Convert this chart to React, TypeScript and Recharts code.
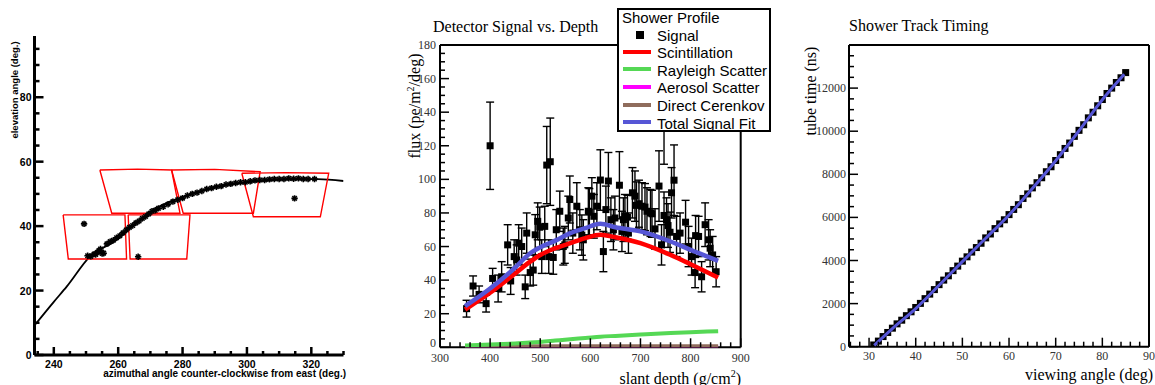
import { ComposedChart, ErrorBar, Line, Scatter, XAxis, YAxis } from 'recharts'

const SERIF = '"Liberation Serif", "Times New Roman", serif'
const SANS = '"Liberation Sans", Arial, sans-serif'

// ---- panel 1: track on the sky ----
const SKY_CURVE_AZ = [234.1, 240, 244, 251.2, 259.5, 265, 270.9, 280.2, 291.7, 302, 314.5, 322, 330]
const SKY_CURVE_EL = [9.3, 16.5, 21.2, 30.5, 35.7, 40.4, 45.0, 49.1, 52.3, 53.8, 54.6, 54.6, 54.0]

const SKY_HIT_AZ = [
  249.4, 250.5, 251.5, 252.5, 253, 253.5, 254, 254.5, 255, 255.5, 256.5, 257.5, 258.5, 259.5, 260.5,
  261.5, 262.5, 263.5, 264.5, 265.5, 266.2, 266.5, 267.5, 268.5, 269.5, 270.5, 271.5, 272.5, 274,
  275.5, 277, 278.5, 280, 281.5, 283, 284.5, 286, 287.5, 289, 290.5, 292, 293.5, 295, 296.5, 298,
  299.5, 301, 302.5, 304, 305.5, 307, 308.5, 310, 311.5, 313, 314.5, 314.8, 316, 317.5, 319, 321,
]
const SKY_HIT_EL = [
  40.7, 30.8, 30.6, 31.3, 31.2, 31.8, 32.4, 32.9, 31.5, 31.6, 34.5, 35.2, 35.6, 36.4, 37.0,
  37.9, 38.8, 39.6, 40.2, 41.0, 30.5, 41.6, 42.4, 43.0, 43.8, 44.6, 44.9, 45.5, 46.0,
  46.8, 47.6, 48.2, 48.7, 49.5, 50.0, 50.4, 50.9, 51.5, 51.8, 52.2, 52.4, 52.9, 53.1, 53.4, 53.6,
  53.6, 53.9, 54.2, 54.3, 54.3, 54.5, 54.6, 54.6, 54.6, 54.8, 54.7, 48.6, 54.8, 54.6, 54.6, 54.6,
]

// pixel footprints (corners, closed)
const BOX_AZ = [
  [242.9, 262.1, 262.6, 244.5, 242.9],
  [263.1, 282.3, 281.3, 263.7, 263.1],
  [254.3, 266, 276.6, 279.2, 258.0, 254.3],
  [276.6, 290, 304.1, 302.0, 280.2, 276.6],
  [298.4, 312, 325.4, 322.8, 302.0, 298.4],
]
const BOX_EL = [
  [43.5, 43.5, 29.8, 29.8, 43.5],
  [43.5, 43.5, 29.8, 29.8, 43.5],
  [57.4, 57.7, 57.4, 44.0, 44.0, 57.4],
  [57.4, 57.6, 56.9, 44.0, 44.0, 57.4],
  [56.4, 56.6, 56.4, 42.9, 42.9, 56.4],
]

const SKY_X_MAJOR = [240, 260, 280, 300, 320]
const SKY_Y_MAJOR = [0, 20, 40, 60, 80]

// ---- panel 2: profile ----
const DEPTH = [
  353, 366, 378, 392, 400, 405, 416, 423, 435, 441, 448, 453, 457, 463, 470, 473, 480, 486, 490, 495,
  499, 503, 509, 513, 517, 520, 526, 532, 539, 546, 549, 556, 559, 565, 573, 579, 583, 586, 596, 598,
  603, 607, 613, 620, 626, 631, 636, 641, 646, 649, 658, 663, 666, 669, 674, 676, 684, 689, 692, 697,
  703, 709, 713, 720, 723, 729, 737, 742, 747, 747, 752, 755, 759, 762, 767, 772, 779, 790, 796, 802,
  809, 810, 816, 822, 829, 836, 839, 844, 851,
]
const FLUX = [
  23, 36.5, 31.5, 26, 120, 41, 35, 42, 61, 39.5, 54, 52, 62, 60, 36, 68, 44.5, 46, 67, 75,
  71.5, 54, 72, 108.5, 54, 110.5, 53.5, 70, 81, 60, 61, 77, 88, 68, 84, 70, 66.8, 64, 81, 80.5,
  90, 78, 84, 99.6, 57, 82, 99, 76, 70, 77, 96.5, 69, 76, 78, 77.5, 68, 92, 90, 84.5, 85.5,
  84, 83.5, 81, 80, 79.5, 70.5, 96, 61, 78.5, 150, 76, 72.5, 68.5, 92, 99.5, 66, 68, 74.5, 60, 54,
  44.5, 66.5, 66, 42, 73, 64, 59, 55, 45,
]
const FLUX_ERR = [
  5, 6, 5, 5, 26, 6, 8, 9, 12, 8, 10, 9, 11, 11, 7, 12, 8, 9, 12, 11,
  12, 10, 12, 23, 10, 26, 10, 12, 12, 11, 11, 13, 14, 12, 14, 12, 12, 12, 14, 14,
  11, 13, 14, 18, 12, 14, 17, 13, 12, 13, 20, 12, 13, 13, 13, 12, 15, 15, 14, 14,
  14, 14, 14, 14, 14, 12, 21, 12, 14, 41, 13, 13, 12, 15, 21, 12, 12, 13, 12, 11,
  9, 12, 12, 9, 13, 12, 11, 11, 9,
]

const FIT_DEPTH = [350, 400, 450, 480, 500, 530, 560, 590, 620, 650, 700, 760, 800, 855]
const SCINT = [22.5, 32.5, 44, 51, 55, 59, 62, 65, 67, 65.5, 62, 55, 49.5, 41.5]
const RAYLEIGH = [1, 1.6, 2.3, 2.8, 3.2, 4, 4.8, 5.5, 6.3, 6.8, 7.6, 8.5, 9, 9.6]
const AEROSOL = [0, 0, 0, 0, 0, 0, 0, 0, 0, 0, 0, 0, 0, 0]
const CERENKOV = [0.6, 0.6, 0.6, 0.6, 0.6, 0.6, 0.6, 0.6, 0.6, 0.6, 0.6, 0.6, 0.6, 0.6]
const TOTAL = [24.5, 35, 47.5, 56, 59.5, 63.5, 68, 71, 73.5, 71.5, 69, 63, 58, 51.5]

// ---- panel 3: timing ----
const VIEW_ANGLE = [
  31, 32, 33, 34, 35, 36, 37, 38, 39, 40, 41, 42, 43, 44, 45, 46, 47, 48, 49, 50, 51, 52, 53, 54, 55,
  56, 57, 58, 59, 60, 61, 62, 63, 64, 65, 66, 67, 68, 69, 70, 71, 72, 73, 74, 75, 76, 77, 78, 79, 80,
  81, 82, 83, 84, 85,
]
const TUBE_TIME = [
  80, 260, 470, 660, 860, 1060, 1230, 1440, 1620, 1820, 2010, 2230, 2440, 2650, 2880, 3090, 3290, 3530,
  3740, 3970, 4170, 4390, 4600, 4800, 5050, 5230, 5480, 5700, 5890, 6130, 6370, 6590, 6880, 7090, 7370,
  7610, 7840, 8120, 8350, 8640, 8910, 9200, 9450, 9760, 10040, 10300, 10620, 10880, 11180, 11470, 11750,
  12000, 12260, 12480, 12720,
]
const TIME_FIT_ANGLE = [31.1, 35, 40, 45, 50, 55, 60, 65, 70, 75, 80, 84.7]
const TIME_FIT = [60, 840, 1770, 2850, 3950, 5030, 6110, 7340, 8630, 10020, 11460, 12640]

const range = (a: number, b: number, s: number) => {
  const out: number[] = []
  for (let v = a; v <= b + 1e-9; v += s) out.push(Math.round(v * 100) / 100)
  return out
}

const skyCurve = SKY_CURVE_AZ.map((x, i) => ({ x, y: SKY_CURVE_EL[i] }))
const skyHits = SKY_HIT_AZ.map((x, i) => ({ x, y: SKY_HIT_EL[i] }))
const boxes = BOX_AZ.map((xs, b) => xs.map((x, i) => ({ x, y: BOX_EL[b][i] })))
const signal = DEPTH.map((x, i) => ({ x, y: FLUX[i], err: FLUX_ERR[i] }))
const fitSeries = (ys: number[]) => FIT_DEPTH.map((x, i) => ({ x, y: ys[i] }))
const timing = VIEW_ANGLE.map((x, i) => ({ x, y: TUBE_TIME[i] }))
const timingFit = TIME_FIT_ANGLE.map((x, i) => ({ x, y: TIME_FIT[i] }))

interface TickStyle {
  side: 'left' | 'bottom'
  majors: number[]
  majorLen: number
  minorLen: number
  sw: number
  gap: number
  font: string
  size: number
  weight?: number
  color: string
  zeroLift?: number
}

function axisTick(s: TickStyle) {
  return (p: any) => {
    const v = p.payload?.value
    const major = s.majors.includes(v)
    const len = major ? s.majorLen : s.minorLen
    const text = { fontFamily: s.font, fontSize: s.size, fontWeight: s.weight, fill: s.color }
    if (s.side === 'left') {
      const ty = v === 0 ? p.y - (s.zeroLift ?? 0) : p.y
      return (
        <g>
          <line x1={p.x} x2={p.x + len} y1={p.y} y2={p.y} stroke="#000" strokeWidth={s.sw} />
          {major && (
            <text x={p.x - s.gap} y={ty} textAnchor="end" dominantBaseline="central" {...text}>{v}</text>
          )}
        </g>
      )
    }
    return (
      <g>
        <line x1={p.x} x2={p.x} y1={p.y} y2={p.y - len} stroke="#000" strokeWidth={s.sw} />
        {major && (
          <text x={p.x} y={p.y + s.gap} textAnchor="middle" dominantBaseline="central" {...text}>{v}</text>
        )}
      </g>
    )
  }
}

const noShape = () => <g />
const square = (size: number) => (p: any) =>
  <rect x={p.cx - size / 2} y={p.cy - size / 2} width={size} height={size} fill="#000" />
const star = (p: any) => {
  const r = 3.2
  return (
    <g stroke="#000" strokeWidth={1.6}>
      <line x1={p.cx - r} x2={p.cx + r} y1={p.cy} y2={p.cy} />
      <line x1={p.cx} x2={p.cx} y1={p.cy - r} y2={p.cy + r} />
      <line x1={p.cx - r * 0.7} x2={p.cx + r * 0.7} y1={p.cy - r * 0.7} y2={p.cy + r * 0.7} />
      <line x1={p.cx - r * 0.7} x2={p.cx + r * 0.7} y1={p.cy + r * 0.7} y2={p.cy - r * 0.7} />
    </g>
  )
}

// smooth curve drawn as a scatter line so it stacks in children order
function Curve({ data, color, width }: { data: { x: number; y: number }[]; color: string; width: number }) {
  return (
    <Scatter data={data} shape={noShape} line={{ stroke: color, strokeWidth: width }} lineType="joint"
      lineJointType="monotoneX" isAnimationActive={false} />
  )
}

const rootTick = { majorLen: 9, minorLen: 5, sw: 1.5, font: SERIF, size: 12, color: '#333' }
const frame = { stroke: '#000', strokeWidth: 2 }

const abs = (style: React.CSSProperties): React.CSSProperties => ({
  position: 'absolute', whiteSpace: 'nowrap', lineHeight: 1, ...style,
})
const vlabel = (cx: number, cy: number, style: React.CSSProperties): React.CSSProperties =>
  abs({ left: cx, top: cy, transform: 'translate(-50%, -50%) rotate(-90deg)', ...style })

const LEGEND = [
  { label: 'Scintillation', color: '#ff0000' },
  { label: 'Rayleigh Scatter', color: '#55d855' },
  { label: 'Aerosol Scatter', color: '#ff00ff' },
  { label: 'Direct Cerenkov', color: '#8f6c5c' },
  { label: 'Total Signal Fit', color: '#5656d6' },
]

export default function App() {
  return (
    <div style={{ position: 'absolute', left: 0, top: 0, width: 1155, height: 385, background: '#fff' }}>
      {/* panel 1 */}
      <div style={{ position: 'absolute', left: 0, top: 0 }}>
        <ComposedChart width={360} height={385} data={skyCurve}
          margin={{ top: 36, right: 16.5, bottom: 29, left: 33.5 }}>
          <XAxis type="number" dataKey="x" domain={[234, 330]} allowDataOverflow ticks={range(235, 330, 5)}
            interval={0} height={1} tickSize={0} tickMargin={0} tickLine={false}
            axisLine={{ stroke: '#000', strokeWidth: 3 }}
            tick={axisTick({ side: 'bottom', majors: SKY_X_MAJOR, majorLen: 8, minorLen: 4, sw: 2.5, gap: 8.5,
              font: SANS, size: 10.5, weight: 700, color: '#000' })} />
          <YAxis type="number" dataKey="y" domain={[0, 99]} allowDataOverflow ticks={range(0, 95, 5)}
            interval={0} width={1} tickSize={0} tickMargin={0} tickLine={false}
            axisLine={{ stroke: '#000', strokeWidth: 3 }}
            tick={axisTick({ side: 'left', majors: SKY_Y_MAJOR, majorLen: 9, minorLen: 5, sw: 2.5, gap: 3,
              font: SANS, size: 10.5, weight: 700, color: '#000' })} />
          {boxes.map((b, i) => (
            <Scatter key={i} data={b} shape={noShape} line={{ stroke: '#ff0000', strokeWidth: 1.4 }}
              lineType="joint" isAnimationActive={false} />
          ))}
          <Line dataKey="y" type="monotone" stroke="#000" strokeWidth={1.8} dot={false} isAnimationActive={false} />
          <Scatter data={skyHits} shape={star} isAnimationActive={false} />
        </ComposedChart>
      </div>

      {/* panel 2 */}
      <div style={{ position: 'absolute', left: 380, top: 0 }}>
        <ComposedChart width={390} height={385}
          margin={{ top: 44, right: 28.3, bottom: 36.7, left: 59 }}>
          <XAxis type="number" dataKey="x" domain={[300, 900]} allowDataOverflow ticks={range(300, 900, 20)}
            interval={0} height={1} tickSize={0} tickMargin={0} tickLine={false} axisLine={frame}
            tick={axisTick({ side: 'bottom', majors: range(300, 900, 100), gap: 11, ...rootTick })} />
          <XAxis xAxisId="top" orientation="top" type="number" domain={[300, 900]} height={1}
            tick={false} tickLine={false} axisLine={frame} />
          <YAxis type="number" dataKey="y" domain={[0, 180]} allowDataOverflow ticks={range(0, 180, 5)}
            interval={0} width={1} tickSize={0} tickMargin={0} tickLine={false} axisLine={frame}
            tick={axisTick({ side: 'left', majors: range(0, 180, 20), gap: 4, zeroLift: 4, ...rootTick })} />
          <YAxis yAxisId="right" orientation="right" type="number" domain={[0, 180]} width={1}
            tick={false} tickLine={false} axisLine={frame} />
          <Scatter data={signal} shape={square(7)} isAnimationActive={false}>
            <ErrorBar dataKey="err" direction="y" width={4} stroke="#000" strokeWidth={1.4} />
          </Scatter>
          {Curve({ data: fitSeries(AEROSOL), color: '#ff00ff', width: 4 })}
          {Curve({ data: fitSeries(CERENKOV), color: '#8f6c5c', width: 4 })}
          {Curve({ data: fitSeries(RAYLEIGH), color: '#55d855', width: 4 })}
          {Curve({ data: fitSeries(SCINT), color: '#ff0000', width: 4.5 })}
          {Curve({ data: fitSeries(TOTAL), color: '#5656d6', width: 4.5 })}
        </ComposedChart>
      </div>

      {/* panel 3 */}
      <div style={{ position: 'absolute', left: 790, top: 0 }}>
        <ComposedChart width={365} height={385}
          margin={{ top: 44, right: 5, bottom: 37.3, left: 58 }}>
          <XAxis type="number" dataKey="x" domain={[25.7, 90]} allowDataOverflow ticks={range(26, 90, 2)}
            interval={0} height={1} tickSize={0} tickMargin={0} tickLine={false} axisLine={frame}
            tick={axisTick({ side: 'bottom', majors: range(30, 90, 10), gap: 9, ...rootTick })} />
          <XAxis xAxisId="top" orientation="top" type="number" domain={[25.7, 90]} height={1}
            tick={false} tickLine={false} axisLine={frame} />
          <YAxis type="number" dataKey="y" domain={[0, 14000]} allowDataOverflow ticks={range(0, 13500, 500)}
            interval={0} width={1} tickSize={0} tickMargin={0} tickLine={false} axisLine={frame}
            tick={axisTick({ side: 'left', majors: range(0, 12000, 2000), gap: 3, ...rootTick })} />
          <YAxis yAxisId="right" orientation="right" type="number" domain={[0, 14000]} width={1}
            tick={false} tickLine={false} axisLine={frame} />
          <Scatter data={timing} shape={square(7)} isAnimationActive={false} />
          {Curve({ data: timingFit, color: '#5656d6', width: 3 })}
        </ComposedChart>
      </div>

      {/* panel 1 text */}
      <div style={vlabel(13.5, 90, { font: `700 9.5px ${SANS}` })}>elevation angle (deg.)</div>
      <div style={abs({ right: 1155 - 346, top: 368, font: `700 10px ${SANS}` })}>
        azimuthal angle counter-clockwise from east (deg.)
      </div>

      {/* panel 2 text */}
      <div style={abs({ left: 433, top: 18, font: `16px ${SERIF}` })}>Detector Signal vs. Depth</div>
      <div style={vlabel(414, 106, { font: `16px ${SERIF}` })}>
        flux (pe/m<span style={{ fontSize: 10, verticalAlign: 6 }}>2</span>/deg)
      </div>
      <div style={abs({ right: 1155 - 741, top: 368, font: `16px ${SERIF}` })}>
        slant depth (g/cm<span style={{ fontSize: 10, verticalAlign: 7 }}>2</span>)
      </div>

      {/* panel 3 text */}
      <div style={abs({ left: 849, top: 17, font: `16px ${SERIF}` })}>Shower Track Timing</div>
      <div style={vlabel(811, 91, { font: `16px ${SERIF}` })}>tube time (ns)</div>
      <div style={abs({ right: 1155 - 1153, top: 366, font: `16px ${SERIF}` })}>viewing angle (deg)</div>

      {/* legend */}
      <div style={{
        position: 'absolute', left: 617, top: 8, width: 150, height: 120, border: '2px solid #000',
        background: '#fff', font: `15px ${SANS}`, lineHeight: 1,
      }}>
        <div style={abs({ left: 3, top: 0 })}>Shower Profile</div>
        <div style={abs({ left: 17, top: 21, width: 8, height: 8, background: '#000' })} />
        <div style={abs({ left: 38, top: 17.5 })}>Signal</div>
        {LEGEND.map((l, i) => (
          <div key={l.label}>
            <div style={abs({ left: 4, top: 41.5 + i * 17.7 - 2, width: 28, height: 4, background: l.color })} />
            <div style={abs({ left: 38, top: 35 + i * 17.7 })}>{l.label}</div>
          </div>
        ))}
      </div>
    </div>
  )
}
